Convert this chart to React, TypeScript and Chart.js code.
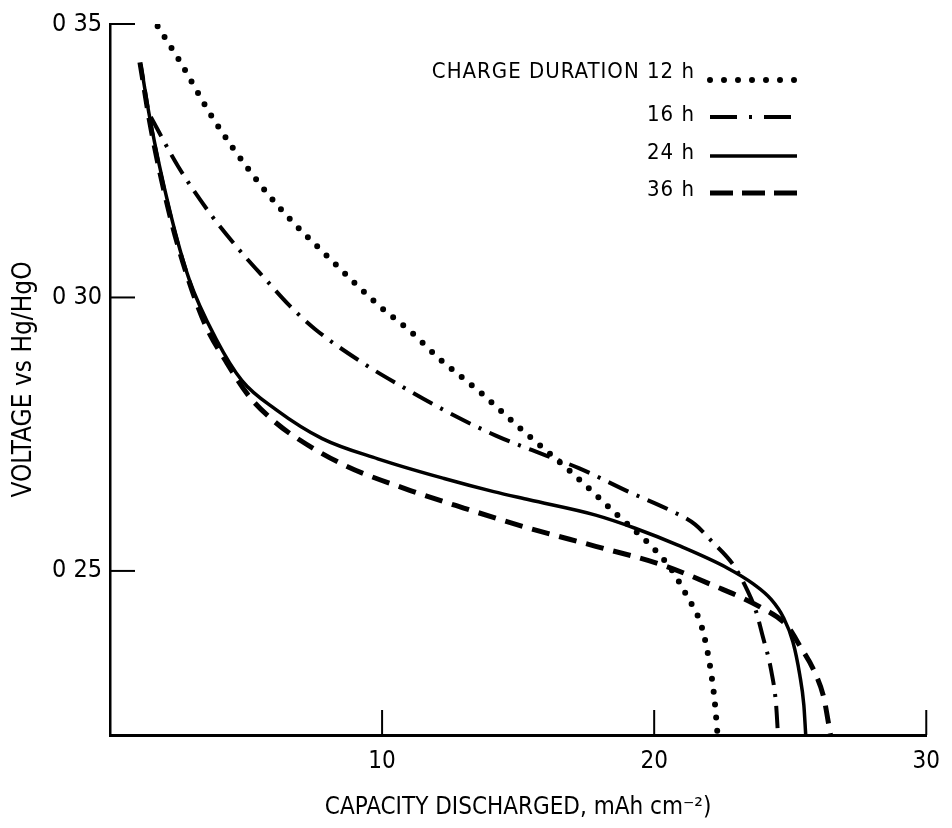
import React, { useEffect, useRef } from "react";
import { Chart, registerables } from "chart.js";

Chart.register(...registerables);

// ---- data ----
const xTickValues = [10, 20, 30];
const xTickLabels = ["10", "20", "30"];
const yTickValues = [0.25, 0.3, 0.35];
const yTickLabels = ["0 25", "0 30", "0 35"];

const xTitle = "CAPACITY DISCHARGED, mAh cm\u207B\u00B2)";
const yTitle = "VOLTAGE vs Hg/HgO";
const legendTitle = "CHARGE DURATION";
const seriesNames = ["12 h", "16 h", "24 h", "36 h"];

const cap12 = [1.75, 2.55, 3.83, 5.17, 6.38, 8.12, 9.91, 11.04, 12.13, 13.6, 15.0, 16.87, 18.7, 19.78, 20.6, 21.24, 21.7, 21.93, 22.1, 22.22, 22.33];
const volt12 = [0.3496, 0.3433, 0.3324, 0.3229, 0.3156, 0.3069, 0.2984, 0.2938, 0.2887, 0.2827, 0.2764, 0.2684, 0.26, 0.2551, 0.2505, 0.2451, 0.2405, 0.236, 0.2311, 0.2264, 0.22];

const cap16 = [1.5, 2.5, 3.64, 4.7, 5.72, 6.6, 7.54, 9.36, 10.56, 12.39, 14.2, 16.03, 17.23, 19.05, 20.66, 21.5, 22.1, 22.95, 23.43, 23.75, 23.97, 24.3, 24.48, 24.55];
const volt16 = [0.333, 0.324, 0.3156, 0.309, 0.3033, 0.2985, 0.2942, 0.2878, 0.2842, 0.2791, 0.2747, 0.2711, 0.2688, 0.2645, 0.2609, 0.2585, 0.2555, 0.2508, 0.2464, 0.2425, 0.2384, 0.2318, 0.2256, 0.22];

const cap24 = [1.13, 1.46, 2.19, 2.91, 3.9, 4.85, 6.1, 7.8, 9.84, 12.28, 14.1, 15.4, 17.85, 19.3, 20.87, 22.7, 23.68, 24.3, 24.75, 25.1, 25.35, 25.5, 25.57];
const volt24 = [0.3427, 0.3329, 0.316, 0.3033, 0.2924, 0.2848, 0.2795, 0.2742, 0.2705, 0.2669, 0.2645, 0.263, 0.2602, 0.2578, 0.2547, 0.2505, 0.2475, 0.2448, 0.2415, 0.237, 0.231, 0.2255, 0.22];

const cap36 = [1.1, 1.5, 2.2, 2.8, 3.5, 4.3, 5.1, 6.0, 6.8, 8.63, 11.04, 13.0, 15.41, 17.85, 20.29, 22.1, 23.93, 24.88, 25.39, 25.87, 26.23, 26.48];
const volt36 = [0.343, 0.331, 0.315, 0.3045, 0.295, 0.288, 0.282, 0.2775, 0.2745, 0.2693, 0.2647, 0.2615, 0.2578, 0.2545, 0.2511, 0.2475, 0.2433, 0.24, 0.236, 0.2318, 0.2269, 0.22];

// ---- styles ----
const FONT = '"Liberation Sans Narrow", "DejaVu Sans Condensed", sans-serif';
const INK = "#000000";

const lineStyles = [
  { width: 6, dash: [0, 13], cap: "round" as CanvasLineCap },
  { width: 4, dash: [22, 9, 3, 9], cap: "butt" as CanvasLineCap },
  { width: 3.5, dash: [] as number[], cap: "butt" as CanvasLineCap },
  { width: 5, dash: [18, 10], cap: "butt" as CanvasLineCap },
];
const legendDash = [[0, 14], [27, 12, 3, 12], [], [23, 9]];

const toPoints = (xs: number[], ys: number[]) => xs.map((x, i) => ({ x, y: ys[i] }));

const inwardTicks = {
  id: "inwardTicks",
  afterDraw(chart: any) {
    const { ctx, scales, chartArea } = chart;
    ctx.save();
    ctx.strokeStyle = INK;
    ctx.lineWidth = 2;
    ctx.setLineDash([]);
    xTickValues.forEach((v) => {
      const px = scales.x.getPixelForValue(v);
      ctx.beginPath();
      ctx.moveTo(px, chartArea.bottom);
      ctx.lineTo(px, chartArea.bottom - 25);
      ctx.stroke();
    });
    yTickValues.forEach((v) => {
      const py = scales.y.getPixelForValue(v);
      ctx.beginPath();
      ctx.moveTo(chartArea.left, py);
      ctx.lineTo(chartArea.left + 25, py);
      ctx.stroke();
    });
    ctx.restore();
  },
};

const customLegend = {
  id: "customLegend",
  afterDraw(chart: any) {
    const { ctx } = chart;
    const textRight = 695;
    const lineStart = 710;
    const lineEnd = 797;
    const textY = [72, 115, 153, 190];
    const lineY = [80, 117, 156, 193];
    ctx.save();
    ctx.fillStyle = INK;
    ctx.strokeStyle = INK;
    ctx.font = `22px ${FONT}`;
    ctx.textAlign = "right";
    ctx.textBaseline = "middle";
    (ctx as any).letterSpacing = "1px";
    seriesNames.forEach((name, i) => {
      const label = i === 0 ? `${legendTitle} ${name}` : name;
      ctx.fillText(label, textRight, textY[i]);
      const st = lineStyles[i];
      ctx.lineWidth = i === 0 ? 6 : st.width;
      ctx.lineCap = st.cap;
      ctx.setLineDash(legendDash[i]);
      ctx.beginPath();
      ctx.moveTo(lineStart, lineY[i]);
      ctx.lineTo(lineEnd, lineY[i]);
      ctx.stroke();
    });
    ctx.restore();
  },
};

export default function App() {
  const ref = useRef<HTMLCanvasElement | null>(null);

  useEffect(() => {
    if (!ref.current) return;
    const series = [toPoints(cap12, volt12), toPoints(cap16, volt16), toPoints(cap24, volt24), toPoints(cap36, volt36)];
    const chart = new Chart(ref.current, {
      type: "line",
      data: {
        datasets: series.map((data, i) => ({
          label: seriesNames[i],
          data,
          borderColor: INK,
          backgroundColor: INK,
          borderWidth: lineStyles[i].width,
          borderDash: lineStyles[i].dash,
          borderCapStyle: lineStyles[i].cap,
          borderJoinStyle: "round" as CanvasLineJoin,
          pointRadius: 0,
          cubicInterpolationMode: "monotone" as const,
          fill: false,
        })),
      },
      options: {
        responsive: false,
        animation: false,
        events: [],
        layout: { padding: { left: 0, top: 24, right: 18, bottom: 0 } },
        plugins: { legend: { display: false }, tooltip: { enabled: false } },
        scales: {
          x: {
            type: "linear",
            min: 0,
            max: 30,
            afterFit: (s: any) => {
              s.height = 93;
            },
            afterBuildTicks: (s: any) => {
              s.ticks = xTickValues.map((value) => ({ value }));
            },
            ticks: {
              color: INK,
              padding: 12,
              font: { family: FONT, size: 24 },
              callback: (v: any) => xTickLabels[xTickValues.indexOf(Number(v))] ?? "",
            },
            grid: { display: false, drawTicks: false },
            border: { display: true, color: INK, width: 3 },
            title: {
              display: true,
              text: xTitle,
              color: INK,
              font: { family: FONT, size: 24 },
              padding: { top: 0, bottom: 6 },
            },
          },
          y: {
            type: "linear",
            min: 0.22,
            max: 0.35,
            afterFit: (s: any) => {
              s.width = 110;
            },
            afterBuildTicks: (s: any) => {
              s.ticks = yTickValues.map((value) => ({ value }));
            },
            ticks: {
              color: INK,
              padding: 8,
              font: { family: FONT, size: 25 },
              callback: (v: any) => {
                const idx = yTickValues.findIndex((t) => Math.abs(t - Number(v)) < 1e-6);
                return idx >= 0 ? yTickLabels[idx] : "";
              },
            },
            grid: { display: false, drawTicks: false },
            border: { display: true, color: INK, width: 2.5 },
            title: {
              display: true,
              text: yTitle,
              color: INK,
              font: { family: FONT, size: 26 },
              padding: { top: 9, bottom: 0 },
            },
          },
        },
      },
      plugins: [inwardTicks, customLegend],
    });
    return () => chart.destroy();
  }, []);

  return (
    <canvas
      ref={ref}
      width={952}
      height={828}
      style={{ position: "absolute", left: 0, top: 0, width: 952, height: 828, background: "#fff" }}
    />
  );
}
